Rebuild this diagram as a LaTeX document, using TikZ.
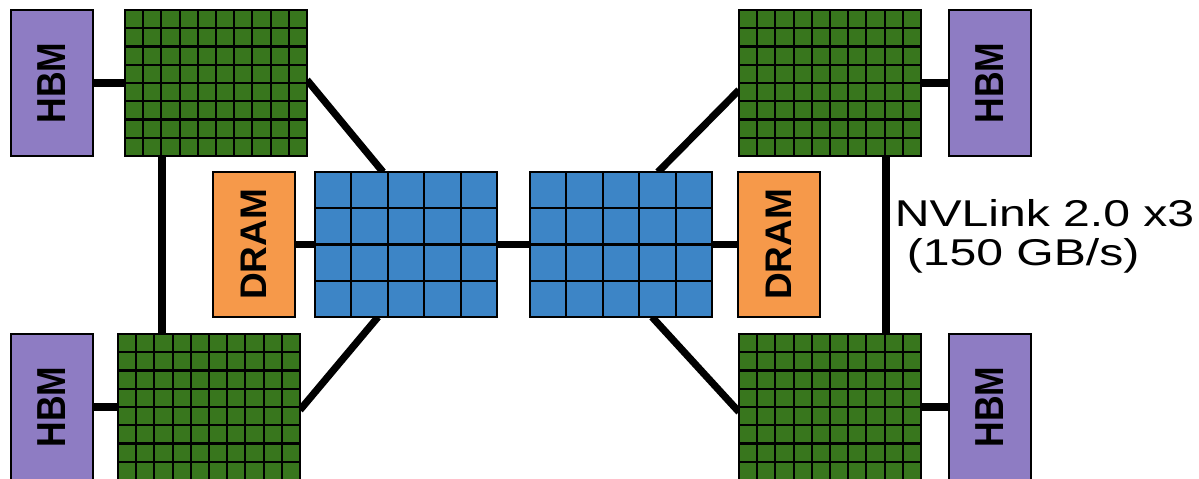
\documentclass[tikz,border=0pt]{standalone}
\usepackage{fontspec}
\setmainfont{Liberation Sans}
\usetikzlibrary{calc,backgrounds}

\definecolor{gpugreen}{HTML}{38761D}
\definecolor{cpublue}{HTML}{3D85C6}
\definecolor{hbmpurple}{HTML}{8E7CC3}
\definecolor{dramorange}{HTML}{F6994A}

\tikzset{
  box/.style={draw=black, line width=2pt, inner sep=0pt, outer sep=0pt},
  hbm/.style={box, fill=hbmpurple, minimum width=82pt, minimum height=146pt},
  dram/.style={box, fill=dramorange, minimum width=82pt, minimum height=145pt},
  gpu/.style={box, fill=gpugreen, minimum width=182pt, minimum height=146pt},
  cpu/.style={box, fill=cpublue, minimum width=182pt, minimum height=145pt},
  gridline/.style={line width=2.1pt, black},
  link/.style={line width=7.2pt, black},
  memlabel/.style={font=\fontsize{35.5}{36}\selectfont\bfseries, rotate=90, inner sep=0pt},
  dramlabel/.style={font=\fontsize{37}{38}\selectfont\bfseries, rotate=90, inner sep=0pt},
  bwlabel/.style={font=\fontsize{37.3}{39}\selectfont, inner sep=0pt, xscale=1.29},
}

% inner cell lines of a chip node: name, columns, rows
\newcommand\cellgrid[3]{%
  \pgfmathtruncatemacro\lastcol{#2-1}%
  \pgfmathtruncatemacro\lastrow{#3-1}%
  \foreach \k in {1,...,\lastcol}
    \draw[gridline] ($(#1.south west)!\k/#2!(#1.south east)$) -- ($(#1.north west)!\k/#2!(#1.north east)$);
  \foreach \k in {1,...,\lastrow}
    \draw[gridline] ($(#1.south west)!\k/#3!(#1.north west)$) -- ($(#1.south east)!\k/#3!(#1.north east)$);
}

\begin{document}
\begin{tikzpicture}[x=1pt, y=1pt]
  \useasboundingbox (0,0) rectangle (1199,479);
  \clip (0,0) rectangle (1199,479);

  % memories
  \node[hbm] (hbmTL) at (52,396) {};
  \node[hbm] (hbmBL) at (52,72) {};
  \node[hbm] (hbmTR) at (990,396) {};
  \node[hbm] (hbmBR) at (990,72) {};
  \foreach \n in {hbmTL,hbmBL,hbmTR,hbmBR}
    \node[memlabel] at (\n.center) {\scalebox{1}[1.14]{HBM}};
  \node[dram] (dramL) at (254,234.5) {};
  \node[dram] (dramR) at (779,234.5) {};
  \node[dramlabel] at (dramL.center) {DRAM};
  \node[dramlabel] at (dramR.center) {DRAM};

  % GPUs
  \node[gpu] (gpuTL) at (216,396) {};
  \node[gpu] (gpuBL) at (209,72) {};
  \node[gpu] (gpuTR) at (830,396) {};
  \node[gpu] (gpuBR) at (830,72) {};
  \cellgrid{gpuTL}{10}{8}
  \cellgrid{gpuBL}{10}{8}
  \cellgrid{gpuTR}{10}{8}
  \cellgrid{gpuBR}{10}{8}

  % CPUs
  \node[cpu] (cpuL) at (406,234.5) {};
  \node[cpu] (cpuR) at (621,234.5) {};
  \cellgrid{cpuL}{5}{4}
  \cellgrid{cpuR}{5}{4}

  % interconnect
  \begin{scope}[on background layer]
    \draw[link] (hbmTL.east) -- (gpuTL.west);
    \draw[link] (hbmBL.east) -- (gpuBL.west);
    \draw[link] (gpuTR.east) -- (hbmTR.west);
    \draw[link] (gpuBR.east) -- (hbmBR.west);
    \draw[link] ([xshift=37pt]gpuTL.south west) -- ([xshift=37pt]gpuTL.south west |- gpuBL.north);
    \draw[link] ([xshift=147pt]gpuTR.south west) -- ([xshift=147pt]gpuTR.south west |- gpuBR.north);
    \draw[link] (dramL.east) -- (cpuL.west);
    \draw[link] (cpuL.east) -- (cpuR.west);
    \draw[link] (cpuR.east) -- (dramR.west);
    \draw[link] ([yshift=3pt]gpuTL.east) -- ([xshift=68pt]cpuL.north west);
    \draw[link] ([xshift=63pt]cpuL.south west) -- ([yshift=-3pt]gpuBL.east);
    \draw[link] ([xshift=128pt]cpuR.north west) -- ([yshift=-7pt]gpuTR.west);
    \draw[link] ([xshift=122pt]cpuR.south west) -- ([yshift=-5pt]gpuBR.west);
  \end{scope}

  % link bandwidth
  \node[bwlabel, anchor=base west] (bw1) at (894.5,252) {NVLink 2.0 x3};
  \node[bwlabel, anchor=base west] (bw2) at (906.5,213) {(150 GB/s)};
\end{tikzpicture}
\end{document}
